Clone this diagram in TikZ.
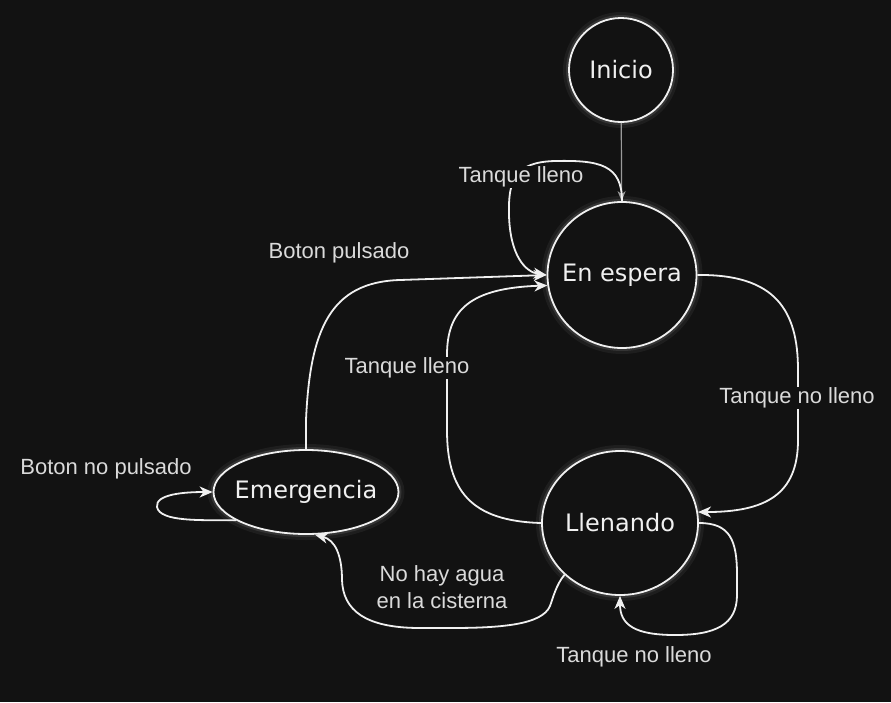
\documentclass[tikz,border=0pt]{standalone}
\usepackage{fontspec}
\setmainfont{Liberation Sans}
\newfontfamily\statefont{DejaVu Sans}
\usetikzlibrary{arrows.meta,shapes.geometric}
\definecolor{bg}{HTML}{121212}
\definecolor{ink}{HTML}{F0F0F0}
\definecolor{soft}{HTML}{DADADA}
\definecolor{faint}{HTML}{9A9A9A}

\begin{document}
\begin{tikzpicture}[
  x=1pt, y=-1pt, line width=1.8pt,
  state/.style={ellipse, draw=ink, fill=bg, text=ink, inner sep=-12pt,
    font=\statefont\fontsize{24}{28}\selectfont,
    preaction={draw=white, opacity=.05, line width=12pt},
    preaction={draw=white, opacity=.10, line width=6pt}},
  flow/.style={draw=ink, -{Stealth[length=13pt,width=11pt,inset=4pt]}},
  start/.style={draw=faint, line width=1.2pt, -{Stealth[length=10pt,width=8pt,inset=3pt]}},
  lbl/.style={font=\fontsize{22}{27}\selectfont, text=soft, fill=bg, inner sep=1pt,
    align=center, yshift=-2pt},
]
  % Page: dark canvas, same size as the screenshot (1pt = 1px).
  \fill[bg] (0,0) rectangle (891,702);
  \useasboundingbox (0,0) rectangle (891,702);

  % States.
  \node[state, minimum width=104pt, minimum height=104pt] (inicio) at (621,70) {Inicio};
  \node[state, minimum width=149pt, minimum height=146pt] (espera) at (622,275) {En espera};
  \node[state, minimum width=156pt, minimum height=144pt] (llenando) at (620,523) {Llenando};
  \node[state, minimum width=185pt, minimum height=84pt] (emergencia) at (306,492) {Emergencia};

  % Transitions.
  \draw[start] (inicio) -- (espera);
  \draw[flow] (espera.north) .. controls (622,165) and (600,160) .. (555,161)
    .. controls (515,162) and (508,180) .. (509,215)
    .. controls (510,255) and (525,272) .. (espera.west);
  \draw[flow] (emergencia.north) -- (306,420) .. controls (310,330) and (330,282) .. (400,280)
    -- (espera.west);
  \draw[flow] (llenando.west) .. controls (470,521) and (447,490) .. (447,430) -- (447,355)
    .. controls (447,310) and (470,288) .. (espera.188);
  \draw[flow] (espera.east) .. controls (775,274) and (798,310) .. (798,370) -- (798,440)
    .. controls (798,495) and (765,512) .. (llenando.8);
  \draw[flow] (llenando.east) .. controls (730,523) and (737,540) .. (737,575) -- (737,595)
    .. controls (737,625) and (715,635) .. (675,635)
    .. controls (635,635) and (620,625) .. (llenando.south);
  \draw[flow] (llenando.223) .. controls (556,585) and (553,598) .. (550,606)
    .. controls (542,625) and (500,628) .. (450,628) -- (420,628)
    .. controls (365,628) and (343,610) .. (342,580)
    .. controls (342,555) and (335,540) .. (emergencia.282);
  \draw[flow] (emergencia.202) .. controls (200,520) and (160,522) .. (157,507)
    .. controls (155,494) and (185,492) .. (emergencia.west);

  % Edge labels.
  \node[lbl] (lleno1) at (521,175) {Tanque lleno};
  \node[lbl] (pulsado) at (339,251) {Boton pulsado};
  \node[lbl] (lleno2) at (407,366) {Tanque lleno};
  \node[lbl] (nolleno1) at (797,396) {Tanque no lleno};
  \node[lbl] (nolleno2) at (634,655) {Tanque no lleno};
  \node[lbl] (sinagua) at (442,585) {No hay agua\\en la cisterna};
  \node[lbl] (nopulsado) at (106,467) {Boton no pulsado};
\end{tikzpicture}
\end{document}
